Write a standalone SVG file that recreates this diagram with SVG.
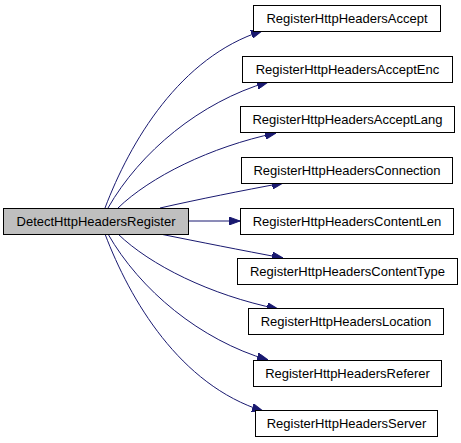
<svg xmlns="http://www.w3.org/2000/svg" width="461" height="443" viewBox="0 0 461 443">
<style>
.n rect{fill:#fff;stroke:#000;stroke-width:1}
.n.main rect{fill:#bfbfbf;stroke:#000}
.n text{font-family:"Liberation Sans",Arial,sans-serif;font-size:13px;fill:#000;text-anchor:middle}
.e path{fill:none;stroke:#191970;stroke-width:1;marker-end:url(#ah)}
</style>
<defs>
<marker id="ah" viewBox="0 0 11 8" refX="11" refY="4" markerWidth="11" markerHeight="8" markerUnits="userSpaceOnUse" orient="auto">
<polygon points="0,0 11,4 0,8" fill="#191970" stroke="#191970"/>
</marker>
</defs>
<rect width="461" height="443" fill="#fff"/>
<g id="edges" class="e">
<path d="M105,208 C130,142 180,57 262,31"/>
<path d="M108,208 C140,152 200,102 268,82"/>
<path d="M118,208 C150,177 210,147 276,133"/>
<path d="M160,208 C200,199 240,191 283,183"/>
<path d="M189,221 L240,221"/>
<path d="M160,234 C200,242 240,250 283,258"/>
<path d="M118,234 C150,265 210,295 278,309"/>
<path d="M108,234 C140,290 200,340 268,360"/>
<path d="M105,234 C130,300 180,385 263,411"/>
</g>
<g id="DetectHttpHeadersRegister" class="n main"><rect x="3.5" y="208.5" width="185" height="26"/><text x="96" y="226">DetectHttpHeadersRegister</text></g>
<g id="RegisterHttpHeadersAccept" class="n"><rect x="253.5" y="5.5" width="187" height="26"/><text x="347" y="23">RegisterHttpHeadersAccept</text></g>
<g id="RegisterHttpHeadersAcceptEnc" class="n"><rect x="242.5" y="56.5" width="210" height="26"/><text x="347.5" y="74">RegisterHttpHeadersAcceptEnc</text></g>
<g id="RegisterHttpHeadersAcceptLang" class="n"><rect x="240.5" y="106.5" width="214" height="26"/><text x="347.5" y="124">RegisterHttpHeadersAcceptLang</text></g>
<g id="RegisterHttpHeadersConnection" class="n"><rect x="241.5" y="157.5" width="211" height="26"/><text x="347" y="175">RegisterHttpHeadersConnection</text></g>
<g id="RegisterHttpHeadersContentLen" class="n"><rect x="240.5" y="208.5" width="213" height="26"/><text x="347" y="226">RegisterHttpHeadersContentLen</text></g>
<g id="RegisterHttpHeadersContentType" class="n"><rect x="237.5" y="258.5" width="220" height="26"/><text x="347.5" y="276">RegisterHttpHeadersContentType</text></g>
<g id="RegisterHttpHeadersLocation" class="n"><rect x="248.5" y="308.5" width="195" height="26"/><text x="346" y="326">RegisterHttpHeadersLocation</text></g>
<g id="RegisterHttpHeadersReferer" class="n"><rect x="253.5" y="360.5" width="188" height="26"/><text x="347.5" y="378">RegisterHttpHeadersReferer</text></g>
<g id="RegisterHttpHeadersServer" class="n"><rect x="255.5" y="410.5" width="182" height="26"/><text x="346.5" y="428">RegisterHttpHeadersServer</text></g>
</svg>
